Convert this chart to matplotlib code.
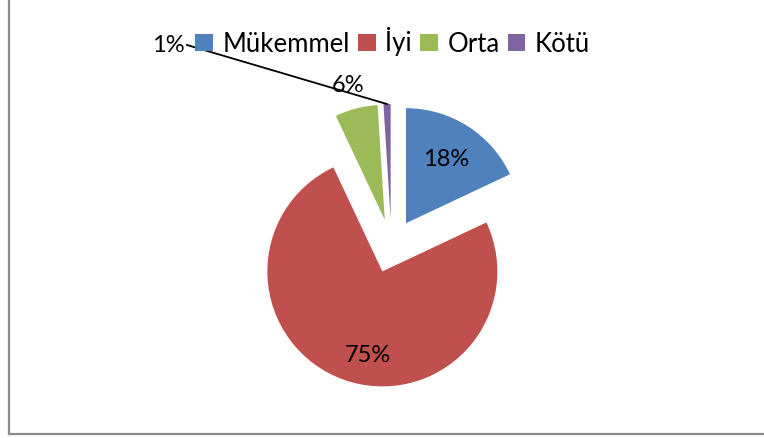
import matplotlib
matplotlib.use("Agg")
import matplotlib.pyplot as plt
import numpy as np
from matplotlib.lines import Line2D

categories = ["Mükemmel", "İyi", "Orta", "Kötü"]
values = [18, 75, 6, 1]
colors = ["#4F81BD", "#C0504D", "#9BBB59", "#8064A2"]

plt.rcParams['font.family'] = ['Lato', 'DejaVu Sans']

W, H = 764, 438
fig = plt.figure(figsize=(W / 100, H / 100), dpi=100)
ax = fig.add_axes([0, 0, 1, 1])

cx, cy = 391.5, H - 246
R = 115
wedges, texts, autotexts = ax.pie(
    values, colors=colors, startangle=90, counterclock=False,
    center=(cx, cy), radius=R, explode=[27] * 4,
    autopct='%1.0f%%', pctdistance=0.66,
    textprops=dict(fontsize=17, color='black'),
    wedgeprops=dict(linewidth=0), frame=False)
ax.set_xlim(0, W)
ax.set_ylim(0, H)
ax.set_aspect('equal')
ax.axis('off')

# reposition labels as in the reference
autotexts[1].set_position((368, H - 355))
autotexts[2].set_position((348, H - 85))
autotexts[3].set_position((168, H - 45))

# leader line for the 1% label
w = wedges[3]
mid = np.deg2rad((w.theta1 + w.theta2) / 2)
px = w.center[0] + w.r * np.cos(mid)
py = w.center[1] + w.r * np.sin(mid)
ax.plot([187, px], [H - 45, py], color='black', lw=1.3, zorder=5)

leg = fig.legend(wedges, categories, loc='center', bbox_to_anchor=(0.514, 1 - 42 / H),
                 ncol=4, frameon=False, fontsize=18.5, handlelength=0.68, handleheight=0.68,
                 handletextpad=0.38, columnspacing=0.32, borderaxespad=0, borderpad=0)
leg.set_zorder(10)

# chart border (left and bottom visible)
fig.add_artist(Line2D([9 / W, 9 / W], [0 + 4 / H, 1], transform=fig.transFigure,
                      color='#8a8a8a', lw=1.6))
fig.add_artist(Line2D([9 / W, 1], [4 / H, 4 / H], transform=fig.transFigure,
                      color='#8a8a8a', lw=1.6))

fig.savefig("out.png", dpi=100, facecolor='white')
